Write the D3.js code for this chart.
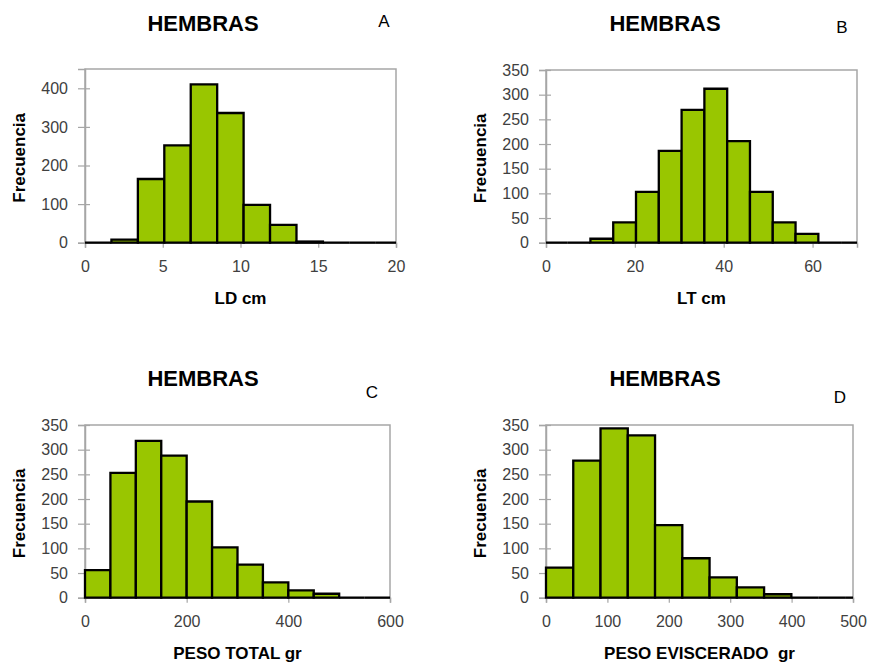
<!DOCTYPE html>
<html><head><meta charset="utf-8">
<script src="https://cdn.jsdelivr.net/npm/d3@7"></script>
<style>
body{margin:0;background:#fff;}
svg{display:block;font-family:"Liberation Sans",Arial,sans-serif;}
</style></head>
<body><svg id="c" width="869" height="666"></svg>
<script>
// ---- data ----
const panelLetters = ["A", "B", "C", "D"];
const panelTitle = "HEMBRAS";
const yLabel = "Frecuencia";
const xLabels = ["LD cm", "LT cm", "PESO TOTAL gr", "PESO EVISCERADO  gr"];

const ldBinStart = 0, ldBinWidth = 1.7;
const ldCounts = [0, 8, 165, 252, 410, 336, 98, 46, 3, 0, 0, 0];
const ldXTicks = [0, 5, 10, 15, 20];
const ldYTicks = [0, 100, 200, 300, 400];

const ltBinStart = -0.26, ltBinWidth = 5.13;
const ltCounts = [0, 0, 8, 41, 103, 186, 269, 312, 206, 103, 41, 18, 0, 0];
const ltXTicks = [0, 20, 40, 60];
const ltYTicks = [0, 50, 100, 150, 200, 250, 300, 350];

const ptBinStart = 0, ptBinWidth = 50;
const ptCounts = [56, 253, 318, 288, 195, 102, 67, 31, 15, 8, 0, 0];
const ptXTicks = [0, 200, 400, 600];
const ptYTicks = [0, 50, 100, 150, 200, 250, 300, 350];

const peBinStart = 0, peBinWidth = 44.4;
const peCounts = [61, 278, 343, 329, 147, 80, 41, 21, 7, 0, 0, 0];
const peXTicks = [0, 100, 200, 300, 400, 500];
const peYTicks = [0, 50, 100, 150, 200, 250, 300, 350];

// ---- layout ----
const panels = [
  {start: ldBinStart, width: ldBinWidth, counts: ldCounts, xTicks: ldXTicks, yTicks: ldYTicks,
   xDom: [0, 20], yDom: [0, 450], box: {l: 85, r: 396, t: 69, b: 242.7}, title: [203, 31], letter: [384, 27]},
  {start: ltBinStart, width: ltBinWidth, counts: ltCounts, xTicks: ltXTicks, yTicks: ltYTicks,
   xDom: [0, 70], yDom: [0, 350], box: {l: 546, r: 857, t: 70, b: 242.7}, title: [665, 31], letter: [842, 33]},
  {start: ptBinStart, width: ptBinWidth, counts: ptCounts, xTicks: ptXTicks, yTicks: ptYTicks,
   xDom: [0, 600], yDom: [0, 350], box: {l: 85, r: 390, t: 425, b: 597.7}, title: [203, 386], letter: [372, 398]},
  {start: peBinStart, width: peBinWidth, counts: peCounts, xTicks: peXTicks, yTicks: peYTicks,
   xDom: [0, 500], yDom: [0, 350], box: {l: 546, r: 853, t: 425, b: 597.7}, title: [665, 386], letter: [840, 403]}
];

const svg = d3.select("#c");
const green = "#99c600";
const grid = "#a6a6a6";
const txt = "#404040";

panels.forEach((p, i) => {
  const b = p.box;
  const x = d3.scaleLinear().domain(p.xDom).range([b.l, b.r]);
  const y = d3.scaleLinear().domain(p.yDom).range([b.b, b.t]);
  const g = svg.append("g");

  // plot frame
  g.append("rect").attr("x", b.l).attr("y", b.t).attr("width", b.r - b.l).attr("height", b.b - b.t)
    .attr("fill", "none").attr("stroke", grid).attr("stroke-width", 1.5);

  // y axis
  const ya = g.append("g").attr("transform", `translate(${b.l},0)`)
    .call(d3.axisLeft(y).tickValues(p.yTicks).tickSize(7).tickPadding(10));
  ya.select(".domain").attr("stroke", grid).attr("stroke-width", 1.5);
  ya.selectAll(".tick line").attr("stroke", grid).attr("stroke-width", 1.2).attr("x1", 5);
  ya.selectAll(".tick text").attr("fill", txt).style("font-size", "16px")
    .style("font-family", "Liberation Sans, Arial, sans-serif");

  // x axis
  const xa = g.append("g").attr("transform", `translate(0,${b.b})`)
    .call(d3.axisBottom(x).tickValues(p.xTicks).tickSize(5).tickPadding(13));
  xa.select(".domain").attr("stroke", grid).attr("stroke-width", 1.5);
  xa.selectAll(".tick line").attr("stroke", grid).attr("stroke-width", 1.2);
  xa.selectAll(".tick text").attr("fill", txt).style("font-size", "16px")
    .style("font-family", "Liberation Sans, Arial, sans-serif");

  // bins
  const bins = p.counts.map((c, k) => {
    const e0 = p.start + k * p.width, e1 = e0 + p.width;
    return {x0: Math.max(p.xDom[0], e0), x1: Math.min(p.xDom[1], e1), c: c};
  }).filter(d => d.x1 > d.x0);

  g.selectAll("path.bar").data(bins).join("path").attr("class", "bar")
    .attr("d", d => `M${x(d.x0)},${y(0)}V${y(d.c)}H${x(d.x1)}V${y(0)}Z`)
    .attr("fill", green).attr("stroke", "#000").attr("stroke-width", 2.3)
    .attr("stroke-linejoin", "miter");

  // texts
  g.append("text").attr("x", p.title[0]).attr("y", p.title[1]).attr("text-anchor", "middle")
    .style("font-size", "22px").style("font-weight", "bold").attr("fill", "#000").text(panelTitle);
  g.append("text").attr("x", p.letter[0]).attr("y", p.letter[1]).attr("text-anchor", "middle")
    .style("font-size", "17px").attr("fill", "#000").text(panelLetters[i]);
  g.append("text").attr("transform", `translate(${b.l - 60},${(b.t + b.b) / 2 + 2}) rotate(-90)`)
    .attr("text-anchor", "middle").style("font-size", "17px").style("font-weight", "bold")
    .attr("fill", "#000").text(yLabel);
  g.append("text").attr("x", (b.l + b.r) / 2).attr("y", b.b + 61).attr("text-anchor", "middle")
    .style("font-size", "17px").style("font-weight", "bold").style("white-space", "pre")
    .attr("fill", "#000").text(xLabels[i]);
});
</script></body></html>
